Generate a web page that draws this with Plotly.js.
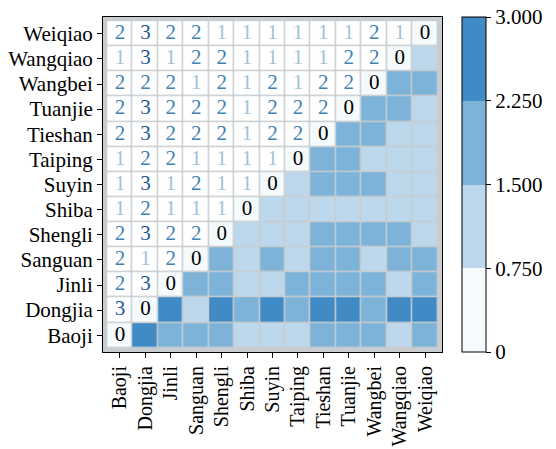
<!DOCTYPE html>
<html>
<head>
<meta charset="utf-8">
<script src="https://cdn.plot.ly/plotly-3.0.1.min.js"></script>
<style>html,body{margin:0;padding:0;background:#fff;}#chart{width:556px;height:449px;}</style>
</head>
<body>
<div id="chart"></div>
<script>
var categories = ["Baoji","Dongjia","Jinli","Sanguan","Shengli","Shiba","Suyin","Taiping","Tieshan","Tuanjie","Wangbei","Wangqiao","Weiqiao"];
// lower triangle rows: row i lists values against categories 0..i-1
var rowDongjia  = [3];
var rowJinli    = [2,3];
var rowSanguan  = [2,1,2];
var rowShengli  = [2,3,2,2];
var rowShiba    = [1,2,1,1,1];
var rowSuyin    = [1,3,1,2,1,1];
var rowTaiping  = [1,2,2,1,1,1,1];
var rowTieshan  = [2,3,2,2,2,1,2,2];
var rowTuanjie  = [2,3,2,2,2,1,2,2,2];
var rowWangbei  = [2,2,2,1,2,1,2,1,2,2];
var rowWangqiao = [1,3,1,2,2,1,1,1,1,2,2];
var rowWeiqiao  = [2,3,2,2,1,1,1,1,1,1,2,1];
var lowerRows = [[], rowDongjia, rowJinli, rowSanguan, rowShengli, rowShiba, rowSuyin, rowTaiping, rowTieshan, rowTuanjie, rowWangbei, rowWangqiao, rowWeiqiao];
var tickVals = [0, 0.75, 1.5, 2.25, 3];
var tickText = ["0", "0.750", "1.500", "2.250", "3.000"];

var n = categories.length;
function val(i, j) { if (i === j) return 0; return i > j ? lowerRows[i][j] : lowerRows[j][i]; }

var zColor = [], zBlank = [];
var tx = [], ty = [], tt = [], tc = [];
var textColors = {0: "#000000", 1: "#9fc2d7", 2: "#3f82b4", 3: "#1d5c96"};
for (var i = 0; i < n; i++) {
  var rc = [], rb = [];
  for (var j = 0; j < n; j++) {
    if (j >= i) { rc.push(val(i, j)); rb.push(null); }
    else { rc.push(null); rb.push(1); }
    if (j <= i) { tx.push(categories[j]); ty.push(categories[i]); tt.push(String(val(i, j))); tc.push(textColors[val(i, j)]); }
  }
  zColor.push(rc); zBlank.push(rb);
}

var FONT = "'Liberation Serif', 'Times New Roman', Times, serif";
var c0 = "#f5fafc", c1 = "#bdd8ec", c2 = "#7eb3d9", c3 = "#408bc6";
var traces = [
  {type: "heatmap", x: categories, y: categories, z: zBlank, colorscale: [[0, "#ffffff"], [1, "#ffffff"]],
   showscale: false, xgap: 1.5, ygap: 1.5, hoverinfo: "skip"},
  {type: "heatmap", x: categories, y: categories, z: zColor, zmin: 0, zmax: 3, xgap: 1.5, ygap: 1.5,
   colorscale: [[0, c0], [0.25, c0], [0.25, c1], [0.5, c1], [0.5, c2], [0.75, c2], [0.75, c3], [1, c3]],
   colorbar: {x: 1.06, xanchor: "left", xpad: 0, ypad: 0, y: 0.5, yanchor: "middle", len: 1, thickness: 24,
     outlinewidth: 1, outlinecolor: "#000", ticks: "outside", ticklen: 5, tickcolor: "#000",
     tickvals: tickVals, ticktext: tickText, tickfont: {family: FONT, size: 21, color: "#000"}}},
  {type: "scatter", mode: "text", x: tx, y: ty, text: tt, hoverinfo: "skip", showlegend: false,
   textfont: {family: FONT, size: 21, color: tc}}
];
var axisCommon = {type: "category", showline: true, linecolor: "#000", linewidth: 1, mirror: true,
  ticks: "outside", ticklen: 5, tickcolor: "#000", showgrid: false, zeroline: false,
  tickfont: {family: FONT, size: 21, color: "#000"}};
var layout = {
  width: 556, height: 449,
  font: {family: FONT},
  margin: {l: 103, r: 104, t: 17, b: 97},
  paper_bgcolor: "#ffffff", plot_bgcolor: "#c9cdd0",
  showlegend: false,
  xaxis: Object.assign({}, axisCommon, {tickangle: -90, categoryorder: "array", categoryarray: categories,
    tickfont: {family: FONT, size: 20, color: "#000"}}),
  yaxis: Object.assign({}, axisCommon, {categoryorder: "array", categoryarray: categories})
};
Plotly.newPlot("chart", traces, layout, {displayModeBar: false, staticPlot: true});
</script>
</body>
</html>
